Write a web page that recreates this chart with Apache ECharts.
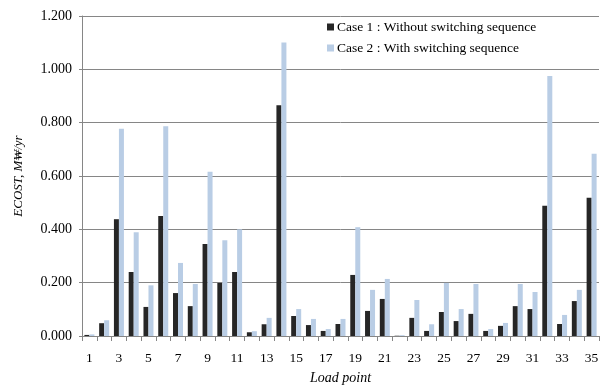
<!DOCTYPE html>
<html><head><meta charset="utf-8">
<script src="https://cdn.jsdelivr.net/npm/echarts@6/dist/echarts.min.js"></script>
<style>html,body{margin:0;padding:0;background:#fff}#c{width:608px;height:388px}</style>
</head><body><div id="c"></div>
<script>
const categories = Array.from({length:35},(_, i)=>String(i+1));
const case1 = [0.004,0.048,0.438,0.240,0.109,0.450,0.161,0.112,0.345,0.199,0.240,0.014,0.044,0.865,0.075,0.041,0.019,0.045,0.229,0.094,0.139,0.001,0.068,0.019,0.090,0.056,0.083,0.019,0.038,0.112,0.101,0.488,0.045,0.131,0.518];
const case2 = [0.006,0.059,0.777,0.389,0.190,0.787,0.274,0.195,0.616,0.359,0.400,0.018,0.068,1.101,0.101,0.064,0.026,0.064,0.408,0.173,0.214,0.003,0.135,0.044,0.199,0.101,0.195,0.026,0.049,0.195,0.165,0.975,0.079,0.173,0.683];
const seriesNames = ['Case 1 : Without switching sequence','Case 2 : With switching sequence'];
const yMin = 0, yMax = 1.2, yStep = 0.2;
const font = 'Liberation Serif';
const chart = echarts.init(document.getElementById('c'), null, {renderer:'canvas'});
chart.setOption({
  animation:false,
  backgroundColor:'#fff',
  textStyle:{fontFamily:font},
  grid:{left:82, right:9, top:16, bottom:52, containLabel:false, outerBoundsMode:'none'},
  legend:{
    orient:'vertical', left:322, top:15, itemWidth:7, itemHeight:7, itemGap:7,
    icon:'rect',
    textStyle:{fontFamily:font, fontSize:13.5, color:'#000', padding:[0,0,0,-2]},
    data:seriesNames
  },
  xAxis:{
    type:'category', data:categories,
    name:'Load point', nameLocation:'middle', nameGap:35,
    nameTextStyle:{fontFamily:font, fontStyle:'italic', fontSize:14, color:'#000'},
    axisLine:{lineStyle:{color:'#868686'}},
    axisTick:{show:true, interval:0, length:5, lineStyle:{color:'#868686'}},
    axisLabel:{interval:1, fontFamily:font, fontSize:13.5, color:'#000', margin:15}
  },
  yAxis:{
    type:'value', min:yMin, max:yMax, interval:yStep,
    name:'ECOST, M₩/yr', nameLocation:'middle', nameGap:57, nameRotate:90,
    nameTextStyle:{fontFamily:font, fontStyle:'italic', fontSize:13, color:'#000'},
    axisLine:{show:true, lineStyle:{color:'#868686'}},
    axisTick:{show:true, length:3, lineStyle:{color:'#868686'}},
    splitLine:{lineStyle:{color:'#868686'}},
    axisLabel:{fontFamily:font, fontSize:14, color:'#000', margin:10, formatter:v=>v.toFixed(3)}
  },
  series:[
    {name:seriesNames[0], type:'bar', data:case1, barWidth:5, barGap:'0%', itemStyle:{color:'#262626'}},
    {name:seriesNames[1], type:'bar', data:case2, barWidth:5, barGap:'0%', itemStyle:{color:'#B9CDE5'}}
  ]
});
</script></body></html>
